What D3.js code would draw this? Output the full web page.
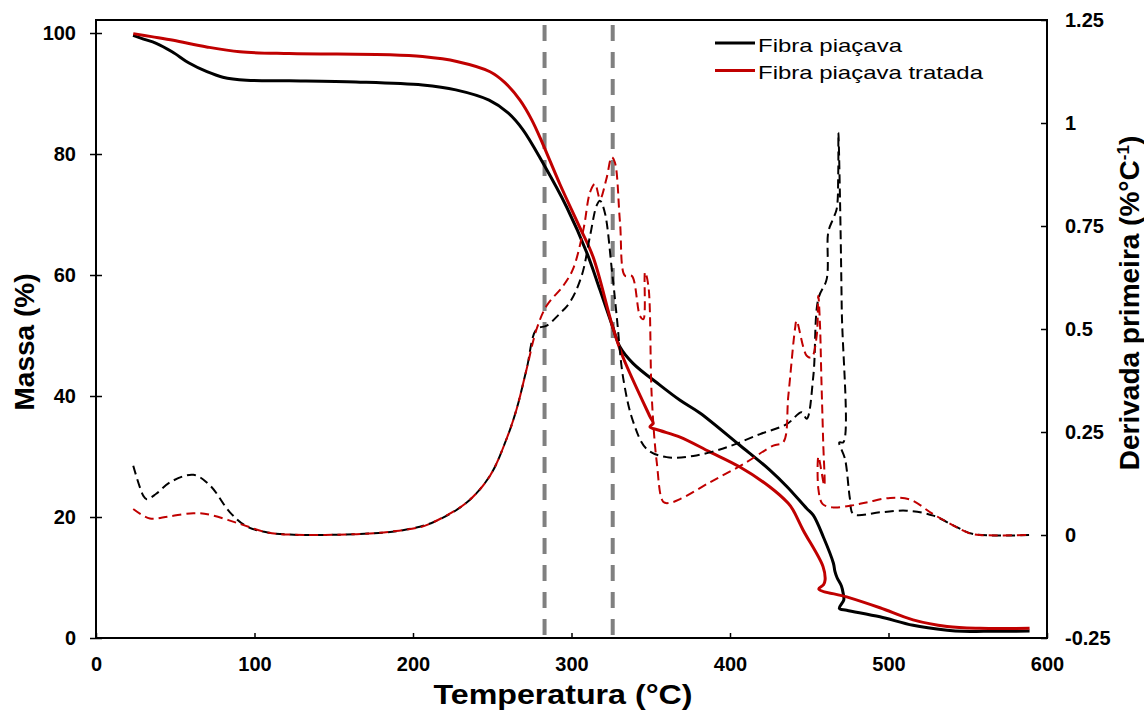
<!DOCTYPE html>
<html>
<head>
<meta charset="utf-8">
<script src="https://cdn.jsdelivr.net/npm/d3@7"></script>
<style>
  body { margin: 0; background: #fff; }
  text { font-family: "Liberation Sans", Arial, sans-serif; }
</style>
</head>
<body>
<script>

// massa (TG) - fibra sem tratamento
var tempMassRaw = [23.4, 30, 38, 48, 59, 70, 80, 95, 122, 164,
    206, 227, 248, 260, 269.4, 282, 297, 309.8, 318, 326,
    330.6, 338.8, 355.8, 368.5, 381, 406, 425, 436, 448.4, 452.5,
    458.9, 465.2, 466.2, 467.5, 470.3, 471.4, 471.8, 469, 473.6, 494.6,
    515.5, 537, 547, 560, 589];
var massRaw = [99.6, 99.0, 98.3, 96.9, 95.0, 93.6, 92.7, 92.2, 92.1, 91.9,
    91.4, 90.6, 88.9, 86.8, 84.0, 78.5, 71.2, 63.6, 57.5, 51.4,
    48.1, 45.4, 41.8, 39.3, 37.2, 31.9, 27.8, 25.0, 21.4, 20.3,
    16.7, 12.4, 11.0, 10.0, 8.6, 7.4, 6.3, 4.9, 4.6, 3.5,
    2.1, 1.3, 1.1, 1.1, 1.15];

// massa (TG) - fibra tratada
var tempMassTreated = [23.5, 35, 48.8, 69.8, 90.8, 122, 185.5, 206, 227.6, 248.6,
    258, 267.5, 275, 282, 292.7, 305, 313.6, 326, 332.5, 349.5, 351.5,
    349.5, 355.8, 368.5, 387, 406, 425, 436.6, 439.7, 446, 458.7,
    460, 459, 456, 473.6, 494.6, 515.5, 537, 557.7, 589];
var massTreated = [99.9, 99.4, 98.8, 97.7, 96.9, 96.6, 96.4, 96.1, 95.3, 93.6,
    91.8, 88.9, 85.6, 81.6, 75.0, 68.0, 63.0, 51.4, 46.4, 36.6, 35.5,
    34.9, 34.3, 33.2, 30.8, 28.3, 25.0, 22.3, 21.2, 17.9, 11.8,
    9.6, 8.8, 8.1, 6.8, 5.0, 3.0, 1.9, 1.6, 1.6];

// derivada (DTG) - fibra sem tratamento
var tempDtgRaw = [23.5, 29.9, 32, 38, 46.7, 61.4, 72, 84.5, 95, 107.7,
    122, 164, 191.8, 212.8, 233.9, 248.6, 259, 265.4, 271.7, 278,
    284.4, 292, 299, 306.4, 311.7, 315.9, 318, 321, 325.4, 328.5,
    332.7, 339, 347.4, 360, 376.8, 398, 419, 435.8, 445.2, 448.4,
    452.6, 455.7, 461, 462, 465, 467.3, 468.3, 468.4, 469.4, 470.5,
    471.5, 469, 472.6, 475.7, 477.8, 494.6, 511.5, 528.3, 543, 553.5,
    589];
var dtgRaw = [0.168, 0.095, 0.087, 0.1, 0.128, 0.146, 0.12, 0.055, 0.021, 0.0065,
    0.001, 0.002, 0.0105, 0.031, 0.079, 0.144, 0.233, 0.306, 0.403, 0.5,
    0.508, 0.535, 0.565, 0.629, 0.726, 0.8, 0.811, 0.783, 0.646, 0.532,
    0.379, 0.274, 0.209, 0.189, 0.192, 0.213, 0.245, 0.269, 0.298, 0.282,
    0.387, 0.573, 0.621, 0.735, 0.767, 0.791, 0.88, 0.977, 0.816, 0.549,
    0.225, 0.225, 0.184, 0.087, 0.051, 0.055, 0.059, 0.047, 0.019, 0.0024,
    0];

// derivada (DTG) - fibra tratada
var tempDtgTreated = [23.5, 34, 46, 61.4, 72, 90.8, 107.7, 122, 164.5, 185.5,
    204.4, 212.8, 233.9, 248.6, 259, 265.4, 271.7, 278, 284.4, 294.8,
    301, 307.6, 311.7, 314.8, 318, 322, 325.4, 327.4, 330.6, 333.8,
    338, 343.2, 345.4, 346.4, 348.5, 350.6, 353.8, 358, 362, 368.5,
    387.4, 408.4, 427.3, 433.6, 436.8, 441, 442, 448.4, 451.5, 454.7,
    455.7, 456.8, 457.6, 458.8, 459.5, 455.8, 455.8, 458.5, 465, 476,
    486, 501, 513.6, 528, 541, 550.6, 557.7, 589];
var dtgTreated = [0.063, 0.04, 0.045, 0.053, 0.049, 0.027, 0.0065, 0.001, 0.002, 0.008,
    0.019, 0.031, 0.079, 0.144, 0.233, 0.306, 0.403, 0.5, 0.557, 0.605,
    0.646, 0.743, 0.832, 0.852, 0.816, 0.864, 0.917, 0.904, 0.759, 0.629,
    0.629, 0.532, 0.524, 0.638, 0.605, 0.338, 0.176, 0.08, 0.078, 0.087,
    0.128, 0.172, 0.217, 0.225, 0.338, 0.5, 0.52, 0.435, 0.431, 0.484,
    0.581, 0.508, 0.387, 0.225, 0.12, 0.19, 0.11, 0.075, 0.067, 0.071,
    0.079, 0.09, 0.086, 0.051, 0.023, 0.005, 0, 0];

var markerTemps = [283, 326];
var xTicks = [0, 100, 200, 300, 400, 500, 600];
var massTicks = [0, 20, 40, 60, 80, 100];
var dtgTicks = [-0.25, 0, 0.25, 0.5, 0.75, 1, 1.25];
var seriesNames = ["Fibra piaçava", "Fibra piaçava tratada"];
var seriesColors = ["#000000", "#c00000"];

var width = 1144;
var height = 711;
var plotLeft = 96, plotRight = 1047, plotTop = 20, plotBottom = 638;

var svg = d3.select("body").append("svg")
    .attr("width", width)
    .attr("height", height);

svg.append("rect").attr("width", width).attr("height", height).attr("fill", "#fff");

var x = d3.scaleLinear().domain([0, 600]).range([plotLeft, plotRight]);
var yMass = d3.scaleLinear().domain([0, 102.15]).range([plotBottom, plotTop]);
var yDtg = d3.scaleLinear().domain([-0.25, 1.25]).range([plotBottom, plotTop]);

function pairs(t, v) {
    return t.map(function(d, i) { return [d, v[i]]; });
}

// linhas verticais cinza
svg.append("g").selectAll("line")
    .data(markerTemps)
    .enter().append("line")
    .attr("x1", function(d) { return x(d); })
    .attr("x2", function(d) { return x(d); })
    .attr("y1", plotTop + 5)
    .attr("y2", plotBottom + 8)
    .attr("stroke", "#808080")
    .attr("stroke-width", 4)
    .attr("stroke-dasharray", "16,11");

var massLine = d3.line()
    .x(function(d) { return x(d[0]); })
    .y(function(d) { return yMass(d[1]); })
    .curve(d3.curveCatmullRom.alpha(0.5));

var dtgLine = d3.line()
    .x(function(d) { return x(d[0]); })
    .y(function(d) { return yDtg(d[1]); })
    .curve(d3.curveCatmullRom.alpha(0.5));

var massSeries = [pairs(tempMassRaw, massRaw), pairs(tempMassTreated, massTreated)];
var dtgSeries = [pairs(tempDtgRaw, dtgRaw), pairs(tempDtgTreated, dtgTreated)];

svg.append("g").selectAll("path")
    .data(massSeries)
    .enter().append("path")
    .attr("d", massLine)
    .attr("fill", "none")
    .attr("stroke", function(d, i) { return seriesColors[i]; })
    .attr("stroke-width", 3)
    .attr("stroke-linejoin", "round");

svg.append("g").selectAll("path")
    .data(dtgSeries)
    .enter().append("path")
    .attr("d", dtgLine)
    .attr("fill", "none")
    .attr("stroke", function(d, i) { return seriesColors[i]; })
    .attr("stroke-width", 2)
    .attr("stroke-dasharray", "9,5");

// moldura
svg.append("rect")
    .attr("x", plotLeft).attr("y", plotTop)
    .attr("width", plotRight - plotLeft).attr("height", plotBottom - plotTop)
    .attr("fill", "none")
    .attr("stroke", "#000")
    .attr("stroke-width", 2);

var xAxis = svg.append("g")
    .attr("transform", "translate(0," + plotBottom + ")")
    .call(d3.axisBottom(x).tickValues(xTicks).tickSizeInner(-5).tickSizeOuter(0).tickPadding(19));

var leftAxis = svg.append("g")
    .attr("transform", "translate(" + plotLeft + ",0)")
    .call(d3.axisLeft(yMass).tickValues(massTicks).tickSizeInner(6).tickSizeOuter(0).tickPadding(14));
leftAxis.selectAll(".tick line").attr("x1", 6);

var rightAxis = svg.append("g")
    .attr("transform", "translate(" + plotRight + ",0)")
    .call(d3.axisRight(yDtg).tickValues(dtgTicks).tickSizeInner(-6).tickSizeOuter(0).tickPadding(18)
        .tickFormat(function(d) { return String(d); }));

[xAxis, leftAxis, rightAxis].forEach(function(g) {
    g.select(".domain").remove();
    g.selectAll(".tick line").attr("stroke", "#000").attr("stroke-width", 1.5);
    g.selectAll(".tick text")
        .attr("fill", "#000")
        .style("font-family", "'Liberation Sans', Arial, sans-serif")
        .style("font-size", "20px")
        .style("font-weight", "bold");
});

// titulos dos eixos
svg.append("text")
    .attr("x", 563).attr("y", 704)
    .attr("text-anchor", "middle")
    .attr("textLength", 259)
    .attr("lengthAdjust", "spacingAndGlyphs")
    .style("font-size", "28px").style("font-weight", "bold")
    .text("Temperatura (°C)");

svg.append("text")
    .attr("transform", "translate(34,342) rotate(-90)")
    .attr("text-anchor", "middle")
    .style("font-size", "28px").style("font-weight", "bold")
    .text("Massa (%)");

var rt = svg.append("text")
    .attr("transform", "translate(1139,303) rotate(-90)")
    .attr("text-anchor", "middle")
    .style("font-size", "28px").style("font-weight", "bold");
rt.append("tspan").text("Derivada primeira (%°C");
rt.append("tspan").attr("dy", -10).style("font-size", "17px").text("-1");
rt.append("tspan").attr("dy", 10).text(")");

// legenda
var legend = svg.append("g").selectAll("g")
    .data(seriesNames)
    .enter().append("g")
    .attr("transform", function(d, i) { return "translate(715," + (43 + i * 27.5) + ")"; });

legend.append("line")
    .attr("x1", 0).attr("x2", 40)
    .attr("stroke", function(d, i) { return seriesColors[i]; })
    .attr("stroke-width", 3);

legend.append("text")
    .attr("x", 43).attr("y", 8.5)
    .style("font-size", "19px")
    .attr("textLength", function(d, i) { return i == 0 ? 144 : 225; })
    .attr("lengthAdjust", "spacingAndGlyphs")
    .text(function(d) { return d; });

</script>
</body>
</html>
